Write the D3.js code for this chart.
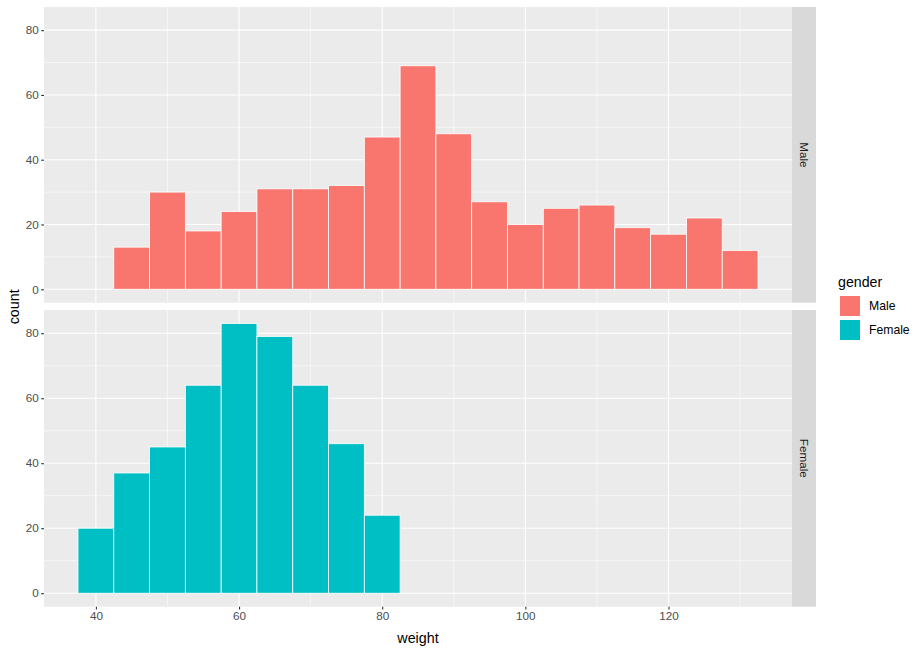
<!DOCTYPE html>
<html>
<head>
<meta charset="utf-8">
<script src="https://cdn.jsdelivr.net/npm/d3@7"></script>
<style>
  body { margin: 0; background: #fff; }
  svg { display: block; font-family: "Liberation Sans", Arial, sans-serif; }
</style>
</head>
<body>
<svg id="chart" width="922" height="652"></svg>
<script>
// ---- data ----
const binCenters = [40, 45, 50, 55, 60, 65, 70, 75, 80, 85, 90, 95, 100, 105, 110, 115, 120, 125, 130];
const maleCounts = [0, 13, 30, 18, 24, 31, 31, 32, 47, 69, 48, 27, 20, 25, 26, 19, 17, 22, 12];
const femaleCounts = [20, 37, 45, 64, 83, 79, 64, 46, 24, 0, 0, 0, 0, 0, 0, 0, 0, 0, 0];
const genders = ["Male", "Female"];
const genderColors = ["#F8766D", "#00BFC4"];
const xTicks = [40, 60, 80, 100, 120];
const xMinor = [50, 70, 90, 110, 130];
const yTicks = [0, 20, 40, 60, 80];
const yMinor = [10, 30, 50, 70];
const binWidth = 5;

const series = [maleCounts, femaleCounts];

// ---- layout ----
const svg = d3.select("#chart");
const panelLeft = 44, panelRight = 792;
const panels = [{ top: 7, bottom: 302.7 }, { top: 310, bottom: 606.7 }];
const stripW = 24;

const xMin = binCenters[0] - binWidth / 2;
const xMax = binCenters[binCenters.length - 1] + binWidth / 2;
const xPad = (xMax - xMin) * 0.05;
const x = d3.scaleLinear().domain([xMin - xPad, xMax + xPad]).range([panelLeft, panelRight]);

const yMaxData = d3.max([...maleCounts, ...femaleCounts]);
const yPad = yMaxData * 0.05;

genders.forEach((g, i) => {
  const p = panels[i];
  const y = d3.scaleLinear().domain([-yPad, yMaxData + yPad]).range([p.bottom, p.top]);
  const gp = svg.append("g");

  gp.append("rect").attr("x", panelLeft).attr("y", p.top)
    .attr("width", panelRight - panelLeft).attr("height", p.bottom - p.top)
    .attr("fill", "#EBEBEB");

  // minor grid
  gp.selectAll(".ymin").data(yMinor).enter().append("line")
    .attr("x1", panelLeft).attr("x2", panelRight)
    .attr("y1", d => y(d)).attr("y2", d => y(d))
    .attr("stroke", "#fff").attr("stroke-width", 0.55);
  gp.selectAll(".xmin").data(xMinor).enter().append("line")
    .attr("y1", p.top).attr("y2", p.bottom)
    .attr("x1", d => x(d)).attr("x2", d => x(d))
    .attr("stroke", "#fff").attr("stroke-width", 0.55);
  // major grid
  gp.selectAll(".ymaj").data(yTicks).enter().append("line")
    .attr("x1", panelLeft).attr("x2", panelRight)
    .attr("y1", d => y(d)).attr("y2", d => y(d))
    .attr("stroke", "#fff").attr("stroke-width", 1.1);
  gp.selectAll(".xmaj").data(xTicks).enter().append("line")
    .attr("y1", p.top).attr("y2", p.bottom)
    .attr("x1", d => x(d)).attr("x2", d => x(d))
    .attr("stroke", "#fff").attr("stroke-width", 1.1);

  // bars
  const data = binCenters.map((c, j) => ({ c, v: series[i][j] })).filter(d => d.v > 0);
  gp.selectAll(".bar").data(data).enter().append("rect")
    .attr("x", d => x(d.c - binWidth / 2))
    .attr("width", d => x(d.c + binWidth / 2) - x(d.c - binWidth / 2))
    .attr("y", d => y(d.v))
    .attr("height", d => y(0) - y(d.v))
    .attr("fill", genderColors[i])
    .attr("stroke", "#fff").attr("stroke-width", 0.8);

  // y axis
  const ya = gp.append("g").attr("transform", `translate(${panelLeft},0)`)
    .call(d3.axisLeft(y).tickValues(yTicks).tickSize(2.8).tickPadding(2.5));
  ya.select(".domain").remove();
  ya.selectAll(".tick line").attr("stroke", "#333").attr("stroke-width", 1.1);
  ya.selectAll(".tick text").attr("fill", "#4D4D4D").style("font-size", "11.7px")
    .style("font-family", "'Liberation Sans', Arial, sans-serif");

  // strip
  gp.append("rect").attr("x", panelRight).attr("y", p.top)
    .attr("width", stripW).attr("height", p.bottom - p.top).attr("fill", "#D9D9D9");
  const cy = (p.top + p.bottom) / 2, cx = panelRight + stripW / 2;
  gp.append("text").attr("transform", `translate(${cx},${cy}) rotate(90)`)
    .attr("text-anchor", "middle").attr("dy", "0.35em")
    .attr("fill", "#1A1A1A").style("font-size", "11.7px").text(g);
});

// x axis
const xa = svg.append("g").attr("transform", `translate(0,${panels[1].bottom})`)
  .call(d3.axisBottom(x).tickValues(xTicks).tickSize(2.8).tickPadding(2.5));
xa.select(".domain").remove();
xa.selectAll(".tick line").attr("stroke", "#333").attr("stroke-width", 1.1);
xa.selectAll(".tick text").attr("fill", "#4D4D4D").style("font-size", "11.7px")
  .style("font-family", "'Liberation Sans', Arial, sans-serif");

// axis titles
svg.append("text").attr("x", (panelLeft + panelRight) / 2).attr("y", 642.5)
  .attr("text-anchor", "middle").attr("fill", "#000").style("font-size", "14.3px").text("weight");
svg.append("text").attr("transform", `translate(19,${(panels[0].top + panels[1].bottom) / 2}) rotate(-90)`)
  .attr("text-anchor", "middle").attr("fill", "#000").style("font-size", "14.3px").text("count");

// legend
const lg = svg.append("g");
lg.append("text").attr("x", 838).attr("y", 287).attr("fill", "#000")
  .style("font-size", "14.2px").text("gender");
genders.forEach((g, i) => {
  const ky = 296 + i * 24;
  lg.append("rect").attr("x", 840).attr("y", ky).attr("width", 20).attr("height", 20)
    .attr("fill", genderColors[i]);
  lg.append("text").attr("x", 869).attr("y", ky + 10).attr("dy", "0.35em")
    .attr("fill", "#000").style("font-size", "12.2px").text(g);
});
</script>
</body>
</html>
